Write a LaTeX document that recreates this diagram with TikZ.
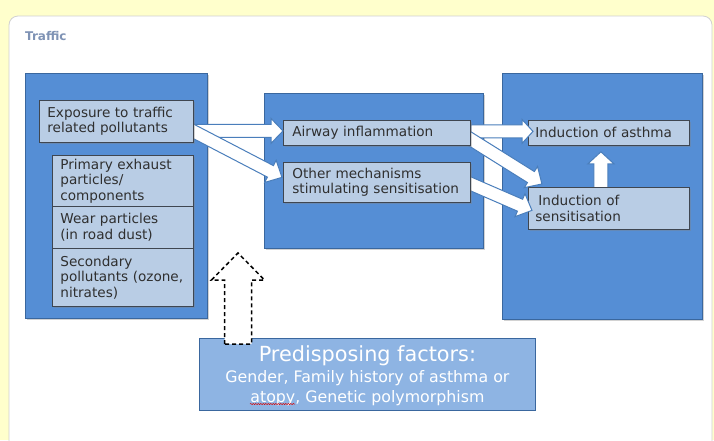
\documentclass[tikz,border=0pt]{standalone}
\usepackage{fontspec}
\setmainfont{DejaVu Sans}
\usetikzlibrary{calc,shadows,decorations.pathmorphing}
\pgfdeclarelayer{back}
\pgfdeclarelayer{bg}
\pgfdeclarelayer{la}
\pgfdeclarelayer{lb}
\pgfdeclarelayer{lc}
\pgfdeclarelayer{ld}
\pgfdeclarelayer{le}
\pgfdeclarelayer{lf}
\pgfsetlayers{back,bg,la,lb,lc,ld,le,lf,main}
\definecolor{bgyellow}{HTML}{FFFFCC}
\definecolor{bigblue}{HTML}{558ED5}
\definecolor{bigedge}{HTML}{3A679E}
\definecolor{lightbox}{HTML}{B9CDE5}
\definecolor{boxedge}{HTML}{3F4650}
\definecolor{predfill}{HTML}{8EB4E3}
\definecolor{titlecol}{HTML}{7F93B5}
\definecolor{txt}{HTML}{2F2F2F}
\definecolor{arrowedge}{HTML}{4A7EBB}
\newcommand\blockarrow[6][]{%
  \draw[#1] let \p1=(#2), \p2=(#3),
    \n1={atan2(\y2-\y1,\x2-\x1)}, \n2={veclen(\x2-\x1,\y2-\y1)} in
    [shift={(\p1)}, rotate=\n1]
    (0,-#4) -- ({\n2-#6},-#4) -- ({\n2-#6},-#5) -- ({\n2},0)
    -- ({\n2-#6},#5) -- ({\n2-#6},#4) -- (0,#4) -- cycle;}
\tikzset{
  bigbox/.style={draw=bigedge, fill=bigblue, line width=0.8pt, anchor=north west,
    drop shadow={shadow xshift=1.2pt, shadow yshift=-1.2pt, opacity=0.35}},
  ibox/.style={draw=boxedge, fill=lightbox, line width=0.8pt, anchor=north west,
    text=txt, align=left, inner xsep=8pt, inner ysep=0pt,
    font=\fontsize{13.6}{15.5}\selectfont,
    drop shadow={shadow xshift=1.5pt, shadow yshift=-1.5pt, opacity=0.35}},
  predbox/.style={draw=bigedge, fill=predfill, line width=0.8pt, anchor=north west,
    text=white, align=center, inner sep=0pt},
  barrow/.style={draw=arrowedge, fill=white, line width=1pt, line join=miter},
  darrow/.style={draw=black, fill=white, line width=1.5pt, dash pattern=on 4pt off 3pt, line join=miter}
}
\begin{document}
\begin{tikzpicture}[x=1pt,y=-1pt]
\useasboundingbox (0,0) rectangle (714,440);
\begin{pgfonlayer}{back}
\fill[bgyellow] (0,0) rectangle (714,440);
\draw[black!18, fill=white, line width=0.8pt, rounded corners=9pt] (9,16) rectangle (712,470);
\end{pgfonlayer}
\node[anchor=west, text=titlecol, font=\bfseries\fontsize{12}{14}\selectfont, inner sep=0pt] (title) at (25,36) {Traffic};

\begin{pgfonlayer}{bg}
\node[bigbox, minimum width=182, minimum height=245] (leftbig) at (25,73) {};
\node[bigbox, minimum width=219, minimum height=155] (midbig) at (264,93) {};
\node[bigbox, minimum width=200, minimum height=246] (rightbig) at (502,73) {};
\end{pgfonlayer}

\node[ibox, minimum width=154, minimum height=42, text width=138] (expo) at (39,100) {Exposure to traffic\\related pollutants};
\node[ibox, minimum width=141, minimum height=51, text width=125] (prim) at (52,155) {Primary exhaust\\particles/\\components};
\node[ibox, minimum width=141, minimum height=42, text width=125] (wear) at (52,206) {Wear particles\\(in road dust)};
\node[ibox, minimum width=141, minimum height=58, text width=125] (sec) at (52,248) {Secondary\\pollutants (ozone,\\nitrates)};

\begin{pgfonlayer}{le}
\node[ibox, minimum width=187, minimum height=25, text width=169, inner xsep=9pt] (airway) at (283,120) {Airway inflammation};
\node[ibox, minimum width=187, minimum height=40, text width=169, inner xsep=9pt] (other) at (283,162) {Other mechanisms\\stimulating sensitisation};
\end{pgfonlayer}
\begin{pgfonlayer}{la}
\node[ibox, minimum width=161, minimum height=25, text width=147, inner xsep=7pt] (asthma) at (528,120) {Induction of asthma};
\end{pgfonlayer}
\begin{pgfonlayer}{lc}
\node[ibox, minimum width=161, minimum height=42, text width=147, inner xsep=7pt] (sens) at (528,187) {\hspace*{3pt}Induction of\\sensitisation};
\end{pgfonlayer}

\node[predbox, minimum width=336, minimum height=72] (pred) at (199,338) {};
\node[text=white, align=center, inner sep=0pt, font=\fontsize{20.8}{22}\selectfont] (predtitle) at ($(pred.north)+(0,18)$) {Predisposing factors:};
\node[text=white, align=center, inner sep=0pt, font=\fontsize{15.8}{20}\selectfont] (predsub) at ($(pred.north)+(0,50)$) {Gender, Family history of asthma or\\atopy, Genetic polymorphism};
\draw[red!85!black, line width=0.5pt, decorate, decoration={snake, amplitude=0.6pt, segment length=2.5pt}]
  ($(pred.north west)+(51,66)$) -- ($(pred.north west)+(96,66)$);

\begin{pgfonlayer}{lf}
\blockarrow[barrow]{$(expo.east)+(0,9.5)$}{$(airway.west)+(0,-2)$}{6.5}{12.5}{12}
\blockarrow[barrow]{$(expo.east)+(-5,7.5)$}{$(other.west)+(-1,-5)$}{6.5}{12.5}{13}
\end{pgfonlayer}
\begin{pgfonlayer}{ld}
\blockarrow[barrow]{$(airway.east)+(0,-1.5)$}{$(asthma.west)+(5,-1.5)$}{6.5}{12}{11}
\blockarrow[barrow]{$(airway.east)+(-8,1.5)$}{$(sens.north west)+(14,-3)$}{6.5}{12.5}{13}
\blockarrow[barrow]{$(other.east)+(-8,-2)$}{$(sens.west)+(4,2)$}{6.5}{12.5}{13}
\end{pgfonlayer}
\begin{pgfonlayer}{lb}
\blockarrow[barrow]{$(sens.north)+(-8,2)$}{$(asthma.south)+(-8,6)$}{7}{13}{12}
\end{pgfonlayer}

\coordinate (dtip) at (238,253);
\blockarrow[darrow]{$(pred.north west)+(39,6)$}{dtip}{13.5}{26.5}{27}
\end{tikzpicture}
\end{document}
